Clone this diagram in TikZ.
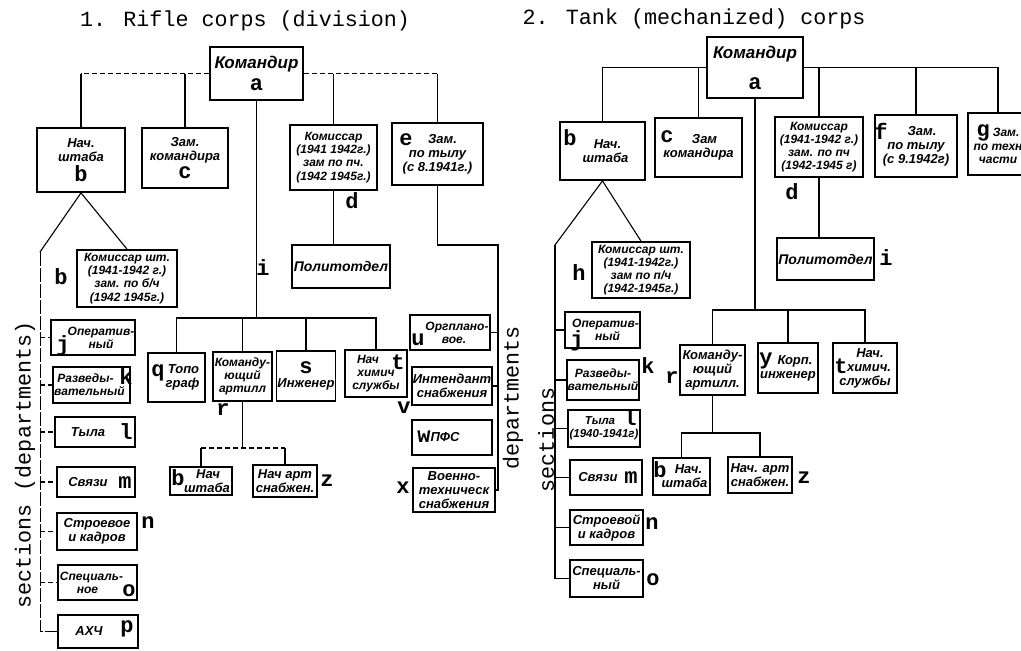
\documentclass[tikz,border=0pt]{standalone}
\usepackage{fontspec}
\setmainfont{Liberation Sans}
\newfontfamily\monofam{Liberation Mono}
\newcommand\rus{\bfseries\itshape\fontsize{13}{14}\selectfont}
\newcommand\rsm{\bfseries\itshape\fontsize{12}{13.2}\selectfont}
\newcommand\lbl{\monofam\bfseries\upshape\fontsize{22}{18}\selectfont}
\tikzset{
  box/.style={draw, line width=1.8pt, inner sep=1pt, align=center, font=\rus},
  sm/.style={font=\rsm},
  sz/.style 2 args={minimum width=#1pt, minimum height=#2pt},
  lab/.style={font=\lbl, inner sep=0pt},
  ln/.style={line width=1.1pt},
  dln/.style={line width=1.1pt, dash pattern=on 5pt off 3pt},
  ttl/.style={font=\monofam\fontsize{21.7}{24}\selectfont, inner sep=0pt}
}
\begin{document}
\begin{tikzpicture}[x=1pt,y=-1pt]
\fill[white] (0,0) rectangle (1021,651);
\useasboundingbox (0,0) rectangle (1021,651);
\clip (0,0) rectangle (1021,651);

% titles
\node[ttl] (ttl1) at (245,21) {1. Rifle corps (division)};
\node[ttl] (ttl2) at (694,19) {2. Tank (mechanized) corps};
\node[ttl, rotate=90] (sec1) at (25,465) {sections (departments)};
\node[ttl, rotate=90] (dep1) at (513,398) {departments};
\node[ttl, rotate=90] (sec2) at (546,440) {sections};

% ---------- left panel ----------
\node[box, sz={93}{53}, font=\rus\fontsize{17}{19}\selectfont] (a1) at (256.5,73.5) {Командир\\[3pt]{\lbl a}};
\node[box, sz={88}{64}] (b1) at (81,160) {Нач.\\штаба\\[3pt]{\lbl b}};
\node[box, sz={86}{60}] (c1) at (185,158) {Зам.\\командира\\[3pt]{\lbl c}};
\node[box, sm, sz={87}{65}] (d1) at (333.5,157.5) {Комиссар\\(1941 1942г.)\\зам по пч.\\(1942 1945г.)};
\node[lab] (ld1) at (352,201) {d};
\node[box, sz={91}{62}] (e1) at (437.5,154) {\hspace*{10pt}Зам.\\по тылу\\(с 8.1941г.)};
\node[lab] (le1) at (406,140) {e};
\node[box, sm, sz={100}{57}] (h1) at (127,278.5) {Комиссар шт.\\(1941-1942 г.)\\зам. по б/ч\\(1942 1945г.)};
\node[lab] (lh1) at (61,277) {b};
\node[box, sz={98}{43}, font=\rus\fontsize{14}{15}\selectfont] (i1) at (341,266.5) {Политотдел};
\node[lab] (li1) at (263,268) {i};

\node[box, sm, sz={80}{35}] (j1) at (93,337.5) {\hspace*{16pt}Оператив-\\\hspace*{16pt}ный};
\node[lab] (lj1) at (63,346) {j};
\node[box, sm, sz={77}{36}] (k1) at (91.5,385) {Разведы-\hspace*{12pt}\\вательный\hspace*{4pt}};
\node[lab] (lk1) at (126,377) {k};
\node[box, sz={80}{30}] (l1) at (95,432) {Тыла\hspace*{14pt}};
\node[lab] (ll1) at (126,432) {l};
\node[box, sz={78}{30}] (m1) at (96,482) {Связи\hspace*{16pt}};
\node[lab] (lm1) at (125,483) {m};
\node[box, sz={80}{37}] (n1) at (97,531.5) {Строевое\\и кадров};
\node[lab] (ln1) at (148,523) {n};
\node[box, sm, sz={79}{35}] (o1) at (97.5,582.5) {Специаль-\hspace*{12pt}\\ное\hspace*{20pt}};
\node[lab] (lo1) at (129,591) {o};
\node[box, sz={80}{33}] (p1) at (98,631.5) {АХЧ\hspace*{18pt}};
\node[lab] (lp1) at (127,629) {p};

\node[box, sz={57}{49}] (q1) at (176.5,377.5) {\hspace*{14pt}Топо\\\hspace*{12pt}граф};
\node[lab] (lq1) at (158,373) {q};
\node[box, sm, sz={59}{49}] (r1) at (242.5,376.5) {Команду-\\ющий\\артилл};
\node[lab] (lr1) at (223,410) {r};
\node[box, sz={58}{50}] (s1) at (306,376) {{\lbl s}\\[0pt]Инженер};
\node[box, sm, sz={62}{47}] (t1) at (376,373.5) {Нач\hspace*{16pt}\\химич\hspace*{12pt}\\службы};
\node[lab] (lt1) at (398,362) {t};

\node[box, sm, sz={80}{35}] (u1) at (450,332.5) {\hspace*{14pt}Оргплано-\\\hspace*{8pt}вое.};
\node[lab] (lu1) at (418,340) {u};
\node[box, sz={80}{38}] (v1) at (452,386) {Интендант\\снабжения};
\node[lab] (lv1) at (404,408) {v};
\node[box, sz={80}{35}] (w1) at (452,437.5) {\hspace*{6pt}ПФС\hspace*{20pt}};
\node[lab] (lw1) at (424,437) {w};
\node[box, sz={82}{44}] (x1) at (454,490) {Военно-\\техническ\\снабжения};
\node[lab] (lx1) at (403,488) {x};

\node[box, sz={62}{28}] (b21) at (201,481) {\hspace*{14pt}Нач\\\hspace*{12pt}штаба};
\node[lab] (lb21) at (178,478) {b};
\node[box, sz={64}{32}] (z1) at (285,481) {Нач арт\\снабжен.};
\node[lab] (lz1) at (327,481) {z};

% left connectors
\draw[dln] (a1.west) -- (a1.west -| b1.north);
\draw[ln] (a1.west -| b1.north) -- (b1.north);
\draw[ln] (a1.west -| c1.north) -- (c1.north);
\draw[dln] (a1.east) -- (a1.east -| e1.north);
\draw[ln] (a1.east -| d1.north) -- (d1.north);
\draw[ln] (a1.east -| e1.north) -- (e1.north);

\coordinate (bus1) at (256.5,318);
\draw[ln] (a1.south) -- (bus1);
\draw[ln] (q1.north) |- (bus1) -| (t1.north);
\draw[ln] (r1.north) -- (r1.north |- bus1);
\draw[ln] (s1.north) -- (s1.north |- bus1);

\draw[ln] (d1.south) -- (d1.south |- i1.north);
\coordinate (eb) at (498,245);
\draw[ln] (e1.south) |- (eb) |- (x1.east);
\draw[ln] (eb |- u1.east) -- (u1.east);
\draw[ln] (eb |- v1.east) -- (v1.east);

\coordinate (sk1) at (40,252);
\draw[ln] (b1.south) -- (sk1);
\draw[ln] (b1.south) -- (h1.north);
\draw[line width=1pt, dash pattern=on 14pt off 2pt] (sk1) |- (p1.west);
\foreach \n in {j1,k1,l1,m1,n1,o1} \draw[dln] (sk1 |- \n.west) -- (\n.west);

\coordinate (rb1) at (243,448);
\draw[ln] (r1.south) -- (r1.south |- rb1);
\draw[dln] (b21.north |- rb1) -- (z1.north |- rb1);
\draw[ln] (b21.north |- rb1) -- (b21.north);
\draw[ln] (z1.north |- rb1) -- (z1.north);

% ---------- right panel ----------
\node[box, sz={96}{61}, font=\rus\fontsize{17}{19}\selectfont] (a2) at (755,67.5) {Командир\\[12pt]{\lbl a}};
\node[box, sz={85}{58}] (b2) at (602.5,151) {\hspace*{10pt}Нач.\\\hspace*{6pt}штаба};
\node[lab] (lb2) at (570,138) {b};
\node[box, sz={87}{59}] (c2) at (698.5,147.5) {\hspace*{12pt}Зам\\командира};
\node[lab] (lc2) at (667,137) {c};
\node[box, sm, sz={88}{60}] (d2) at (819,147) {Комиссар\\(1941-1942 г.)\\зам. по пч\\(1942-1945 г)};
\node[lab] (ld2) at (792,192) {d};
\node[box, sz={82}{62}] (f2) at (916,146) {\hspace*{12pt}Зам.\\по тылу\\(с 9.1942г)};
\node[lab] (lf2) at (881,131) {f};
\node[box, sm, sz={60}{62}] (g2) at (998,144) {{\lbl g}\hspace{3pt}Зам.\\[1pt]по техн\\части};
\node[box, sm, sz={98}{56}] (h2) at (641,270) {Комиссар шт.\\(1941-1942г.)\\зам по п/ч\\(1942-1945г.)};
\node[lab] (lh2) at (579,273) {h};
\node[box, sz={95}{42}, font=\rus\fontsize{14}{15}\selectfont] (i2) at (825.5,259) {Политотдел};
\node[lab] (li2) at (886,258) {i};

\node[box, sm, sz={71}{36}] (j2) at (602.5,330) {\hspace*{6pt}Оператив-\\\hspace*{10pt}ный};
\node[lab] (lj2) at (577,341) {j};
\node[box, sm, sz={70}{40}] (k2) at (603,380) {Разведы-\\вательный};
\node[lab] (lk2) at (648,366) {k};
\node[box, sz={72}{37}, font=\rus\fontsize{11.5}{13}\selectfont] (l2) at (604,428.5) {Тыла\hspace*{8pt}\\(1940-1941г)};
\node[lab] (ll2) at (630,418) {l};
\node[box, sz={72}{35}] (m2) at (606,477.5) {Связи\hspace*{16pt}};
\node[lab] (lm2) at (631,478) {m};
\node[box, sz={73}{35}] (n2) at (606.5,527.5) {Строевой\\и кадров};
\node[lab] (ln2) at (652,524) {n};
\node[box, sz={73}{37}] (o2) at (606.5,578.5) {Специаль-\\ный};
\node[lab] (lo2) at (653,580) {o};

\node[box, sz={65}{50}] (r2) at (712.5,370) {Команду-\\ющий\\артилл.};
\node[lab] (lr2) at (672,378) {r};
\node[box, sz={60}{50}] (y2) at (788,368) {\hspace*{14pt}Корп.\\инженер};
\node[lab] (ly2) at (766,361) {y};
\node[box, sz={64}{50}] (t2) at (865,368) {\hspace*{10pt}Нач.\\\hspace*{8pt}химич.\\службы};
\node[lab] (lt2) at (841,366) {t};
\node[box, sz={57}{37}] (b32) at (681.5,476.5) {\hspace*{14pt}Нач.\\\hspace*{6pt}штаба};
\node[lab] (lb32) at (660,470) {b};
\node[box, sz={64}{36}] (z2) at (760,475) {Нач. арт\\снабжен.};
\node[lab] (lz2) at (804,478) {z};

% right connectors
\draw[ln] (a2.west) -| (b2.north);
\draw[ln] (a2.west -| c2.north) -- (c2.north);
\draw[ln] (a2.east) -| (g2.north);
\draw[ln] (a2.east -| d2.north) -- (d2.north);
\draw[ln] (a2.east -| f2.north) -- (f2.north);
\draw[ln] (d2.south) -- (d2.south |- i2.north);

\coordinate (bus2) at (755,310);
\draw[ln] (a2.south) -- (bus2);
\draw[ln] (r2.north) |- (bus2) -| (t2.north);
\draw[ln] (y2.north) -- (y2.north |- bus2);

\coordinate (sk2) at (555,245);
\draw[ln] (b2.south) -- (sk2);
\draw[ln] (b2.south) -- (h2.north);
\draw[ln] (sk2) |- (o2.west);
\foreach \n in {j2,k2,l2,m2,n2} \draw[ln] (sk2 |- \n.west) -- (\n.west);

\coordinate (rb2) at (712.5,433);
\draw[ln] (r2.south) -- (rb2);
\draw[ln] (b32.north) |- (rb2) -| (z2.north);
\end{tikzpicture}
\end{document}
